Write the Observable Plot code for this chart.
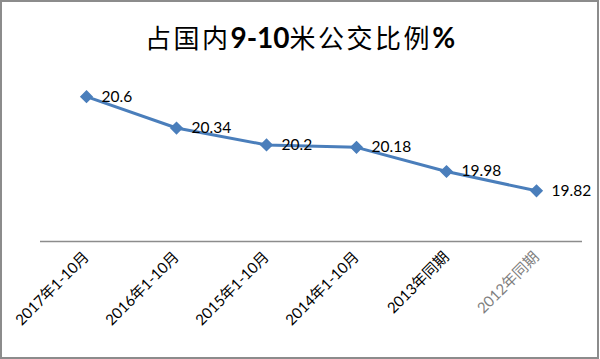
<!DOCTYPE html>
<html>
<head>
<meta charset="utf-8">
<script src="https://cdn.jsdelivr.net/npm/d3@7"></script>
<script src="https://cdn.jsdelivr.net/npm/@observablehq/plot@0.6"></script>
<style>
  html, body { margin: 0; padding: 0; background: #fff; }
  #wrap { position: relative; width: 600px; height: 359px; background: #fff; overflow: hidden; }
  #title {
    position: absolute; left: 0; top: 20px; width: 600px; text-align: center;
    font-family: "Noto Sans CJK SC", sans-serif; font-size: 26px; line-height: 34px;
    color: #000; white-space: nowrap; z-index: 2;
  }
  #title .cjk { font-weight: 400; letter-spacing: 2.5px; }
  #title b { font-family: Lato, "Open Sans", sans-serif; font-weight: 700; font-size: 28px; }
  #border {
    position: absolute; left: 0; top: 0; width: 599px; height: 359px;
    box-sizing: border-box; border: 2px solid #8c8c8c; pointer-events: none; z-index: 3;
  }
  #chart { position: absolute; left: 0; top: 0; }
</style>
</head>
<body>
<div id="wrap">
  <div id="chart"></div>
  <div id="title"><span class="cjk">占国内</span><b>9-10</b><span class="cjk">米公交比例</span><b>%</b></div>
  <div id="border"></div>
</div>
<script>
const categories = ["2017年1-10月", "2016年1-10月", "2015年1-10月", "2014年1-10月", "2013年同期", "2012年同期"];
const values = [20.6, 20.34, 20.2, 20.18, 19.98, 19.82];
const valueLabels = ["20.6", "20.34", "20.2", "20.18", "19.98", "19.82"];

const data = categories.map((c, i) => ({category: c, value: values[i], label: valueLabels[i]}));
const lastCategory = categories[categories.length - 1];

const chart = Plot.plot({
  width: 600,
  height: 359,
  marginTop: 72,
  marginBottom: 118,
  marginLeft: 40,
  marginRight: 18,
  style: {fontFamily: "Lato, 'Noto Sans CJK SC', sans-serif", fontSize: "15px", color: "#000", background: "transparent"},
  x: {type: "point", domain: categories, padding: 0.5, label: null},
  y: {domain: [19.4, 20.8], axis: null},
  marks: [
    Plot.ruleY([19.4], {stroke: "#8c8c8c", strokeWidth: 1.5}),
    Plot.axisX({
      tickSize: 0, tickRotate: -45, tickPadding: 13, fontSize: 15, label: null,
      fill: d => d === lastCategory ? "#7f7f7f" : "#000"
    }),
    Plot.line(data, {x: "category", y: "value", stroke: "#4A7EBB", strokeWidth: 3}),
    Plot.dot(data, {x: "category", y: "value", symbol: "diamond2", r: 5, fill: "#4A7EBB", stroke: "#4A7EBB"}),
    Plot.text(data, {x: "category", y: "value", text: "label", dx: 15, textAnchor: "start", fontSize: 15.5, fill: "#000"})
  ]
});
document.getElementById("chart").appendChild(chart);
</script>
</body>
</html>
